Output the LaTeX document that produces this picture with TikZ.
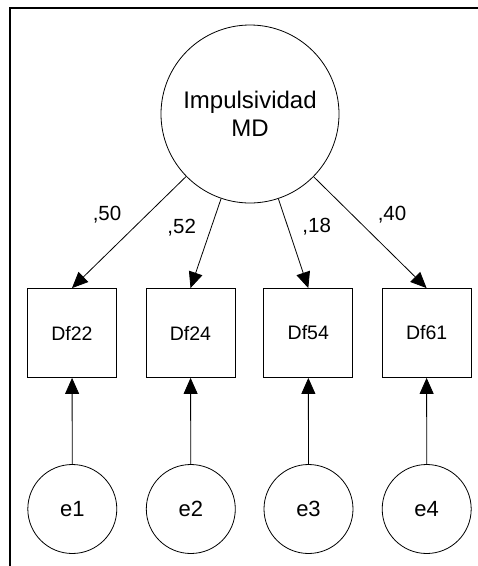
\documentclass[tikz,border=0pt]{standalone}
\usepackage{fontspec}
\setmainfont{Liberation Sans}
\usetikzlibrary{arrows.meta}
\begin{document}
\begin{tikzpicture}[x=1pt,y=-1pt,
  lat/.style={circle,draw,line width=0.8pt,minimum size=178pt,inner sep=0pt,font=\fontsize{24}{27.7}\selectfont,align=center},
  obs/.style={rectangle,draw,line width=0.8pt,minimum size=89pt,inner sep=0pt,font=\fontsize{19.5}{22}\selectfont},
  err/.style={circle,draw,line width=0.8pt,minimum size=89pt,inner sep=0pt,font=\fontsize{22}{24}\selectfont},
  arr/.style={line width=0.8pt,-{Triangle[length=16pt,width=14pt]}},
  coef/.style={font=\fontsize{20.5}{22}\selectfont,inner sep=0pt}]
\useasboundingbox (0,0) rectangle (478,566);
\draw[line width=2pt] (10.3,570) -- (10.3,7.7) -- (482,7.7);

\node[lat] (F) at (250,114) {Impulsividad\\MD};

\node[obs] (d1) at (72,333) {Df22};
\node[obs] (d2) at (190.5,333) {Df24};
\node[obs] (d3) at (308.3,333) {Df54};
\node[obs] (d4) at (426.6,333) {Df61};

\node[err] (e1) at (72.3,509) {e1};
\node[err] (e2) at (190.8,509) {e2};
\node[err] (e3) at (308.5,509) {e3};
\node[err] (e4) at (426.7,509) {e4};

\draw[arr] (F) -- (d1.north);
\draw[arr] (F) -- (d2.north);
\draw[arr] (F) -- (d3.north);
\draw[arr] (F) -- (d4.north);

\draw[arr] (e1) -- (d1);
\draw[arr] (e2) -- (d2);
\draw[arr] (e3) -- (d3);
\draw[arr] (e4) -- (d4);

\node[coef] (c1) at (107,215) {,50};
\node[coef] (c2) at (181.7,228) {,52};
\node[coef] (c3) at (316.7,227) {,18};
\node[coef] (c4) at (392,215) {,40};
\end{tikzpicture}
\end{document}
